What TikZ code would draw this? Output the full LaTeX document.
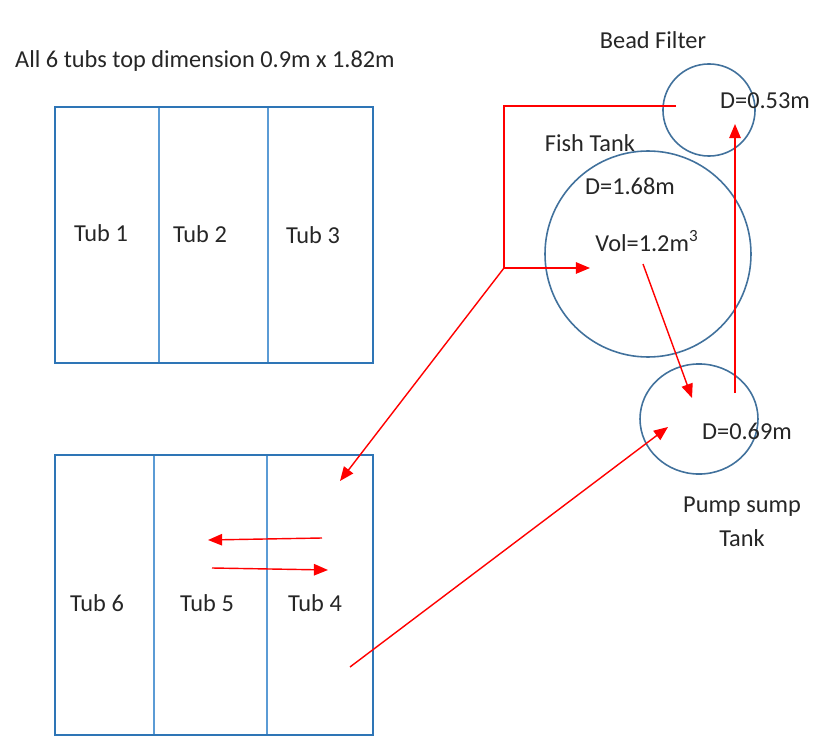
\documentclass[tikz,border=0pt]{standalone}
\usepackage{fontspec}
\setmainfont{Carlito}
\usepackage{xcolor}
\definecolor{cFrame}{HTML}{2E75B6}
\definecolor{cWall}{HTML}{5B9BD5}
\definecolor{cTank}{HTML}{41719C}
\definecolor{cPipe}{HTML}{FF0000}
\definecolor{cText}{HTML}{262626}
\usepackage{tikz}
\usetikzlibrary{positioning,arrows.meta,shapes.geometric}
\tikzset{
  label-text/.style={text=cText,font=\fontsize{13.8}{17}\selectfont,inner sep=0pt},
  tub-frame/.style={draw=cFrame,line width=0.9pt,inner sep=0pt},
  tub-wall/.style={draw=cWall,line width=0.8pt},
  tank/.style={draw=cTank,line width=0.9pt,circle,inner sep=0pt},
  tank-oval/.style={draw=cTank,line width=0.9pt,ellipse,inner sep=0pt},
  pipe/.style={draw=cPipe,line width=0.8pt},
  pipe-arrow/.style={pipe,-{Triangle[length=8pt,width=6.5pt]}},
}
\begin{document}
\begin{tikzpicture}[x=0.567pt,y=-0.567pt]
  \useasboundingbox (0,0) rectangle (825,756);
  % title
  \node[label-text] (title) at (205,61) {All 6 tubs top dimension 0.9m x 1.82m};
  % tub blocks
  \node[tub-frame,minimum width=180.3pt,minimum height=145.2pt] (top-block) at (214,235) {};
  \node[tub-frame,minimum width=180.3pt,minimum height=158.8pt] (bottom-block) at (214,595) {};
  \draw[tub-wall] (159,108) -- (159,362);
  \draw[tub-wall] (268,108) -- (268,362);
  \draw[tub-wall] (154,456) -- (154,734);
  \draw[tub-wall] (267,456) -- (267,734);
  \node[label-text] (tub1) at (101,233) {Tub 1};
  \node[label-text] (tub2) at (200,234) {Tub 2};
  \node[label-text] (tub3) at (313,235) {Tub 3};
  \node[label-text] (tub6) at (97,603)  {Tub 6};
  \node[label-text] (tub5) at (207,603) {Tub 5};
  \node[label-text] (tub4) at (315,603) {Tub 4};
  % tanks
  \node[tank,minimum size=52.2pt]  (bead) at (709,110) {};
  \node[tank,minimum size=116.8pt] (fish) at (648,254) {};
  \node[tank-oval,minimum width=66.9pt,minimum height=62.4pt] (sump) at (699,419) {};
  \node[label-text] (bead-name) at (653,40)  {Bead Filter};
  \node[label-text] (bead-d)    at (765,101) {D=0.53m};
  \node[label-text] (fish-name) at (590,143) {Fish Tank};
  \node[label-text] (fish-d)    at (630,186) {D=1.68m};
  \node[label-text] (fish-vol)  at (647,241) {Vol=1.2m\textsuperscript{3}};
  \node[label-text] (sump-d)    at (747,431) {D=0.69m};
  \node[label-text,align=center] (sump-name) at (742,522) {Pump sump\\[2pt]Tank};
  % pipe ends
  \coordinate (bead-out) at (676,106);
  \coordinate (bead-in)  at (735,124);
  \coordinate (split)    at (504,268);
  \coordinate (fish-in)  at (590,268);
  \coordinate (fish-out) at (643,264);
  \coordinate (sump-in)  at (692,398);
  \coordinate (sump-ret) at (668,427);
  \coordinate (sump-out) at (735,393);
  \coordinate (tub4-in)  at (340,481);
  \coordinate (tub4-out) at (350,667);
  \coordinate (flow-a)   at (322,538);
  \coordinate (flow-b)   at (208,540);
  \coordinate (flow-c)   at (212,568);
  \coordinate (flow-d)   at (328,570);
  % pipes
  \draw[pipe]       (bead-out) -| (split);
  \draw[pipe-arrow] (split)    -- (fish-in);
  \draw[pipe-arrow] (split)    -- (tub4-in);
  \draw[pipe-arrow] (fish-out) -- (sump-in);
  \draw[pipe-arrow] (sump-out) -- (bead-in);
  \draw[pipe-arrow] (tub4-out) -- (sump-ret);
  \draw[pipe-arrow] (flow-a)   -- (flow-b);
  \draw[pipe-arrow] (flow-c)   -- (flow-d);
\end{tikzpicture}
\end{document}
